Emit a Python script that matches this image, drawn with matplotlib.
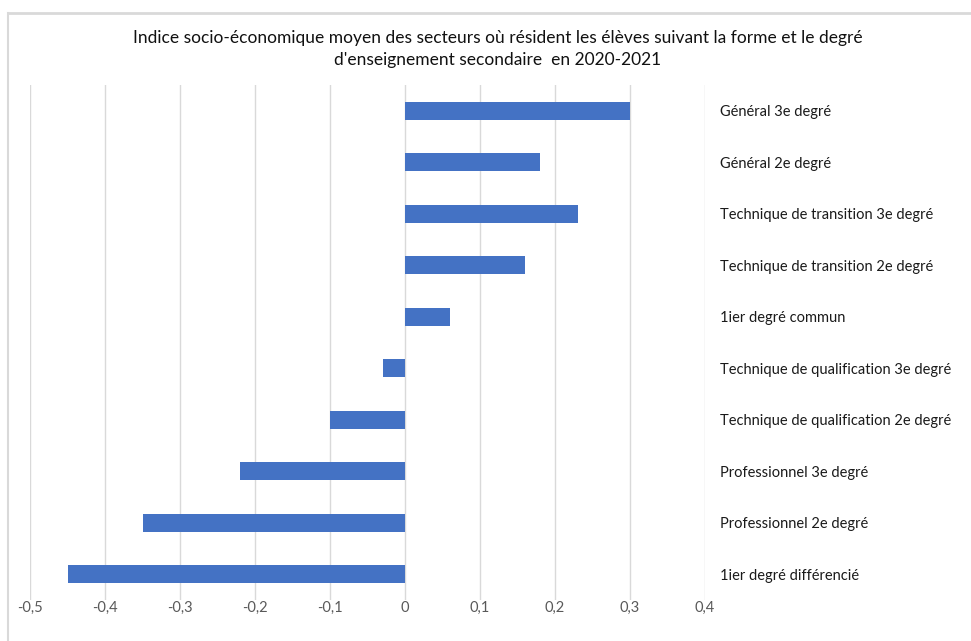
import matplotlib.pyplot as plt
from matplotlib.lines import Line2D
from matplotlib.ticker import FuncFormatter

plt.rcParams['font.family'] = ['Lato', 'DejaVu Sans']

categories = ["Général 3e degré", "Général 2e degré",
              "Technique de transition 3e degré", "Technique de transition 2e degré",
              "1ier degré commun", "Technique de qualification 3e degré",
              "Technique de qualification 2e degré", "Professionnel 3e degré",
              "Professionnel 2e degré", "1ier degré différencié"]
values = [0.30, 0.18, 0.23, 0.16, 0.06, -0.03, -0.10, -0.22, -0.35, -0.45]
xticks = [-0.5, -0.4, -0.3, -0.2, -0.1, 0, 0.1, 0.2, 0.3, 0.4]

title = ("Indice socio-économique moyen des secteurs où résident les élèves suivant la forme et le degré\n"
         "d'enseignement secondaire  en 2020-2021")

fig = plt.figure(figsize=(9.71, 6.41), dpi=100)
ax = fig.add_axes([30/971, 1-600/641, 675/971, 515/641])

ypos = list(range(len(categories)))
ax.barh(ypos, values, height=0.35, color="#4472C4", zorder=3)
ax.set_ylim(len(categories)-0.5, -0.5)
ax.set_xlim(-0.5, 0.4)
ax.set_xticks(xticks)
ax.xaxis.set_major_formatter(FuncFormatter(lambda v, p: ("%g" % round(v, 1)).replace(".", ",")))
ax.grid(axis="x", color="#d9d9d9", linewidth=1, zorder=0)
ax.set_yticks(ypos)
ax.set_yticklabels(categories)
ax.yaxis.tick_right()
ax.tick_params(axis="y", length=0, pad=11, labelsize=10.5, labelcolor="#1a1a1a")
ax.tick_params(axis="x", length=0, pad=1, labelsize=10.5, labelcolor="#595959")
for s in ax.spines.values():
    s.set_visible(False)

fig.text(498/971, 1-49/641, title, ha="center", va="center", fontsize=12.5, color="#111111",
         linespacing=1.45)

# light frame on top and left, like the exported chart area
fig.add_artist(Line2D([8/971, 1], [1-13/641, 1-13/641], color="#d9d9d9", linewidth=2))
fig.add_artist(Line2D([8/971, 8/971], [0, 1-13/641], color="#d9d9d9", linewidth=1.5))

fig.savefig("out.png", dpi=100)
